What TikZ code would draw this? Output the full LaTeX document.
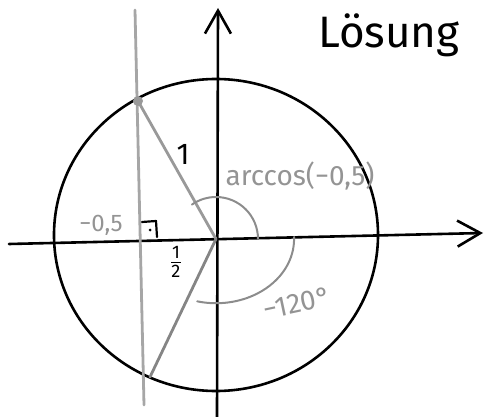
\documentclass[tikz,border=0pt]{standalone}
\usepackage{amsmath}
\usepackage{fontspec}
\setmainfont{Fira Sans}
\usetikzlibrary{arrows.meta}

\begin{document}
\begin{tikzpicture}[
        x=1pt, y=-1pt, line cap=round, line join=round,
        axis/.style={line width=2.6pt, -{Straight Barb[length=23pt, width=26pt]}},
        ink/.style={line width=2.6pt},
        pencil/.style={line width=2.8pt, draw=black!40},
        angarc/.style={line width=2pt, draw=black!45},
        lbl/.style={text=black!42, inner sep=0pt},
    ]
    \useasboundingbox (0,0) rectangle (485,417);
    \coordinate (O) at (216,239);
    \coordinate (M) at (216,235);
    \coordinate (xl) at (9,244);
    \coordinate (xr) at (483,233);
    \coordinate (yb) at (217,417);
    \coordinate (yt) at (218,8);
    \coordinate (vt) at (135,10);
    \coordinate (vb) at (144,405);
    \coordinate (Q) at (150,377);
    \coordinate (r1) at (142,222);
    \coordinate (r2) at (156,221);
    \coordinate (r3) at (157,237);
    \draw[ink] (M) ellipse [x radius=162, y radius=156];
    \draw[axis] (xl) -- (xr);
    \draw[axis] (yb) -- (yt);
    \draw[pencil, draw=black!35] (vt) -- (vb);
    \node[circle, fill=black!40, minimum size=10pt, inner sep=0pt] (P) at (138,101) {};
    \draw[pencil] (P.center) -- (O);
    \draw[pencil, draw=black!48] (O) -- (Q);
    \draw[angarc] (O) ++(42,0) arc[start angle=0, end angle=-125, radius=42];
    \draw[angarc] (O) ++(78,-2) arc[start angle=-2, end angle=104, x radius=78, y radius=64];
    \draw[line width=2.2pt] (r1) -- (r2) -- (r3);
    \node[circle, fill, inner sep=0pt, minimum size=3pt] (dot) at (150,230) {};
    \node[lbl, font=\fontsize{28}{30}\selectfont] (acos) at (300,176) {arccos(−0,5)};
    \node[lbl, font=\fontsize{24}{26}\selectfont] (half) at (101,225) {−0,5};
    \node[lbl, font=\fontsize{28}{30}\selectfont, rotate=12] (deg) at (297,303) {−120°};
    \node[inner sep=0pt, font=\fontsize{30}{32}\selectfont] (one) at (183,154) {1};
    \node[inner sep=0pt, font=\fontsize{26}{30}\selectfont] (frac) at (176,262) {$\frac{\text{1}}{\text{2}}$};
    \node[inner sep=0pt, font=\fontsize{44}{48}\selectfont, anchor=base west] (title) at (318,48) {Lösung};
\end{tikzpicture}
\end{document}
